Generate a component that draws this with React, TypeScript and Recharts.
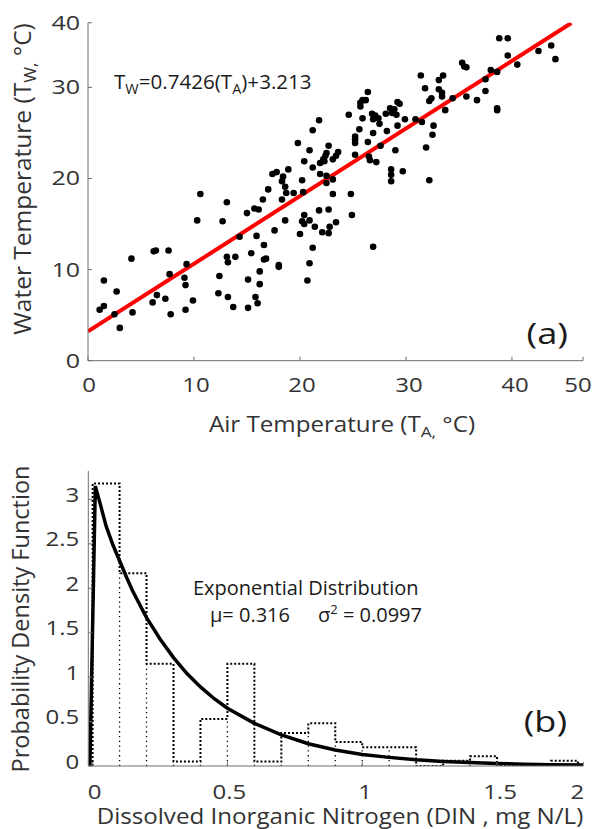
import React from 'react';
import { ComposedChart, Scatter, Line, XAxis, YAxis } from 'recharts';

const FONT = '"Open Sans", "Noto Sans", "DejaVu Sans", sans-serif';
const TEXT = '#333333';
const AXIS = '#6e6e6e';

// ---------- Panel (a): air vs water temperature ----------
const airTemp = [
  1.1, 1.5, 1.5, 2.5, 2.7, 3.0, 4.1, 4.2, 6.1, 6.2, 6.4, 6.5, 7.3, 7.6, 7.7, 7.8, 9.1, 9.2, 9.3, 9.2,
  9.9, 10.3, 10.6, 12.4, 12.3, 12.7, 13.1, 13.1, 13.2, 13.2, 13.7, 13.9, 14.3, 15.0, 15.1, 15.1, 15.4, 15.7, 15.8, 15.9,
  16.0, 16.1, 16.2, 16.2, 16.5, 16.6, 16.6, 16.8, 17.0, 17.6, 18.0, 18.0, 18.3, 18.6, 18.7, 19.4, 20.0,
  23.1, 24.8, 24.9, 21.8, 22.7, 20.4, 20.2, 20.4, 20.9, 21.4, 22.1, 22.8, 22.7, 23.4, 21.2, 20.9, 20.7, 26.9,
  21.8, 21.2, 19.8, 20.9, 22.7, 22.4, 20.4, 21.9, 22.3, 21.2, 18.9, 17.8, 17.4, 18.4, 18.3, 18.6, 21.9, 22.5, 20.2, 20.3,
  22.2, 22.5, 22.5, 23.1, 23.4, 23.6, 23.1, 24.6, 25.2, 25.2, 25.2, 25.2, 25.6, 25.7, 25.7, 25.9, 26.2, 26.4, 25.9, 26.4,
  26.5, 26.6, 26.8, 27.1, 26.9, 26.9, 27.2, 27.4, 27.5, 27.6, 28.1, 28.5, 28.7, 28.9, 29.1, 29.2, 29.4, 28.2, 28.6, 28.6,
  28.6, 29.0, 29.2, 29.7, 29.9, 30.9, 31.5, 31.4, 31.8, 31.9, 32.2, 32.2, 32.4, 32.5, 32.6, 33.1, 33.5, 33.1, 33.4, 33.4,
  33.7, 34.4, 35.3, 35.5, 35.7, 35.7, 36.7, 37.5, 37.5, 38.0, 38.6, 38.6, 38.6, 38.8, 39.6, 39.6, 40.5, 42.5, 43.7, 44.1,
];
const waterTemp = [
  5.6, 6.0, 8.8, 5.1, 7.6, 3.6, 11.2, 5.3, 6.4, 12.0, 12.1, 7.2, 6.8, 12.1, 9.5, 5.1, 9.1, 8.3, 10.6, 5.6,
  6.6, 15.4, 18.3, 9.3, 7.4, 15.3, 17.4, 11.4, 10.8, 7.0, 5.9, 11.4, 13.6, 16.2, 5.8, 8.9, 11.8, 16.7, 7.0, 13.7,
  6.3, 16.6, 9.8, 8.4, 17.7, 12.7, 11.1, 11.2, 18.8, 14.3, 10.3, 10.5, 17.7, 15.4, 18.4, 18.4, 13.9,
  18.3, 18.3, 16.0, 16.5, 16.6, 16.0, 15.3, 15.0, 15.4, 14.7, 14.1, 14.7, 14.0, 15.2, 12.4, 10.7, 8.8, 12.5,
  26.4, 25.3, 23.9, 23.1, 23.6, 22.5, 21.9, 21.7, 21.9, 21.2, 21.0, 20.7, 20.5, 20.2, 19.7, 19.1, 20.5, 19.5, 19.8, 18.5,
  22.1, 22.8, 20.3, 22.1, 22.5, 22.9, 19.9, 27.0, 22.6, 23.9, 24.3, 24.6, 25.4, 27.9, 28.3, 28.6, 28.6, 29.5, 26.6, 24.0,
  22.4, 22.0, 27.1, 26.9, 26.5, 25.0, 21.8, 26.6, 26.0, 23.6, 27.1, 27.7, 27.2, 27.6, 27.0, 28.4, 28.2, 25.2, 21.0, 20.4,
  19.7, 23.1, 25.8, 20.8, 26.5, 26.5, 26.2, 31.3, 29.9, 23.4, 19.8, 28.5, 28.8, 24.8, 25.8, 30.8, 31.3, 29.8, 29.4, 29.0,
  27.5, 28.8, 32.7, 32.3, 32.2, 29.0, 28.6, 30.9, 29.6, 31.9, 31.7, 27.7, 27.5, 35.4, 35.4, 33.5, 32.5, 34.0, 34.6, 33.1,
];
const fitAir = [0, 45.6];
const fitWater = [3.213, 37.07];
const aXTicks = [0, 10, 20, 30, 40, 46.7];
const aXLabels = ['0', '10', '20', '30', '40', '50'];
const aYTicks = [0, 10, 20, 30, 37.1];
const aYLabels = ['0', '10', '20', '30', '40'];

// ---------- Panel (b): DIN histogram + exponential pdf ----------
const binEdges = [0, 0.1, 0.2, 0.3, 0.4, 0.5, 0.6, 0.7, 0.8, 0.9, 1.0, 1.1, 1.2, 1.3, 1.4, 1.5, 1.6, 1.7, 1.8];
const binDensity = [3.18, 2.17, 1.15, 0.05, 0.53, 1.15, 0.05, 0.37, 0.48, 0.27, 0.21, 0.21, 0, 0.06, 0.11, 0, 0, 0.06];
const curveDin = [-0.01, 0.01, 0.03, 0.05, 0.075, 0.1, 0.125, 0.15, 0.2, 0.25, 0.3, 0.35, 0.4, 0.45, 0.5, 0.6, 0.7, 0.8, 0.9, 1.0, 1.1, 1.2, 1.3, 1.4, 1.5, 1.6, 1.7, 1.82];
const curvePdf = [0, 3.15, 2.93, 2.7, 2.49, 2.31, 2.13, 1.96, 1.67, 1.43, 1.22, 1.04, 0.89, 0.76, 0.65, 0.48, 0.35, 0.25, 0.18, 0.13, 0.097, 0.071, 0.052, 0.038, 0.028, 0.02, 0.015, 0.01];
const bXTicks = [0, 0.5, 1, 1.5, 1.82];
const bXLabels = ['0', '0.5', '1', '1.5', '2'];
const bYTicks = [0, 0.5, 1, 1.5, 2, 2.5, 3];
const bYLabels = ['0', '0.5', '1', '1.5', '2', '2.5', '3'];

const scatterData = airTemp.map((x, i) => ({ x, y: waterTemp[i] }));
const fitData = fitAir.map((x, i) => ({ x, y: fitWater[i] }));

// outer outline of the histogram (step envelope)
const histOutline: { x: number; y: number | null }[] = [{ x: binEdges[0], y: 0 }];
binDensity.forEach((h, i) => {
  histOutline.push({ x: binEdges[i], y: h });
  histOutline.push({ x: binEdges[i + 1], y: h });
});
histOutline.push({ x: binEdges[binEdges.length - 1], y: 0 });
// inner bin separators (from 0 up to the lower of the two neighbouring bars)
const histInner: { x: number; y: number | null }[] = [];
for (let i = 1; i < binDensity.length; i++) {
  const top = Math.min(binDensity[i - 1], binDensity[i]);
  if (top > 0) {
    histInner.push({ x: binEdges[i], y: 0 });
    histInner.push({ x: binEdges[i], y: top });
    histInner.push({ x: binEdges[i], y: null });
  }
}
const curveData = curveDin.map((x, i) => ({ x, y: curvePdf[i] }));

const makeXTick = (ticks: number[], labels: string[], dxs: number[], dy: number, sx: number) => (props: any) => {
  const { x, y, payload } = props;
  const i = ticks.indexOf(payload.value);
  return (
    <text transform={`translate(${x + dxs[i]},${y + dy}) scale(${sx},1)`} textAnchor="middle" fontFamily={FONT} fontSize={20} fill={TEXT}>
      {labels[i]}
    </text>
  );
};
const makeYTick = (ticks: number[], labels: string[], dx: number, dy: number, sx: number) => (props: any) => {
  const { x, y, payload } = props;
  const i = ticks.indexOf(payload.value);
  return (
    <text transform={`translate(${x + dx},${y + dy}) scale(${sx},1)`} textAnchor="end" fontFamily={FONT} fontSize={20} fill={TEXT}>
      {labels[i]}
    </text>
  );
};

const dot = (p: any) => <circle cx={p.cx} cy={p.cy} r={3.3} fill="#000" />;

export default function App() {
  return (
    <div style={{ position: 'absolute', left: 0, top: 0, width: 594, height: 829, background: '#fff' }}>
      <div style={{ position: 'absolute', left: 0, top: 0 }}>
        <ComposedChart width={594} height={448} margin={{ top: 22.7, right: 11, bottom: 57.3, left: 28 }}>
          <XAxis xAxisId="b" type="number" dataKey="x" domain={[0, 46.7]} ticks={aXTicks} interval={0} allowDataOverflow height={30}
            tickSize={-4} tickMargin={4} axisLine={{ stroke: AXIS }} tickLine={{ stroke: AXIS }}
            tick={makeXTick(aXTicks, aXLabels, [1, 2, 2, 3, 3, -5], 31, 1.2)} />
          <XAxis xAxisId="t" orientation="top" type="number" dataKey="x" domain={[0, 46.7]} ticks={aXTicks} interval={0} allowDataOverflow height={0}
            tickSize={-4} axisLine={{ stroke: AXIS }} tickLine={{ stroke: AXIS }} tick={false} />
          <YAxis yAxisId="l" type="number" dataKey="y" domain={[0, 37.1]} ticks={aYTicks} interval={0} allowDataOverflow width={60}
            tickSize={-4} tickMargin={4} axisLine={{ stroke: AXIS }} tickLine={{ stroke: AXIS }}
            tick={makeYTick(aYTicks, aYLabels, -8, 7, 1.25)} />
          <YAxis yAxisId="r" orientation="right" type="number" dataKey="y" domain={[0, 37.1]} ticks={aYTicks} interval={0} allowDataOverflow width={0}
            tickSize={-4} axisLine={{ stroke: AXIS }} tickLine={{ stroke: AXIS }} tick={false} />
          <Scatter xAxisId="b" yAxisId="l" data={scatterData} dataKey="y" shape={dot} isAnimationActive={false} />
          <Line xAxisId="b" yAxisId="l" data={fitData} dataKey="y" type="linear" stroke="#ff0000" strokeWidth={4} dot={false} isAnimationActive={false} />
          <text transform="translate(114,89) scale(1.03,1)" fontFamily={FONT} fontSize={20} fill="#1a1a1a">
            <tspan>T</tspan><tspan fontSize={14} dy={5}>W</tspan><tspan dy={-5}>=0.7426(T</tspan><tspan fontSize={14} dy={5}>A</tspan><tspan dy={-5}>)+3.213</tspan>
          </text>
          <text transform="translate(568,344) scale(1.25,1)" textAnchor="end" fontFamily={FONT} fontSize={29} fill="#1a1a1a">(a)</text>
          <text transform="translate(31,179) rotate(-90)" textAnchor="middle" fontFamily={FONT} fontSize={24.5} fill={TEXT}>
            <tspan>Water Temperature (T</tspan><tspan fontSize={17} dy={5}>W,</tspan><tspan dy={-5}> °C)</tspan>
          </text>
          <text transform="translate(342,432) scale(1.15,1)" textAnchor="middle" fontFamily={FONT} fontSize={21} fill={TEXT}>
            <tspan>Air Temperature (T</tspan><tspan fontSize={15} dy={5}>A,</tspan><tspan dy={-5}> °C)</tspan>
          </text>
        </ComposedChart>
      </div>
      <div style={{ position: 'absolute', left: 0, top: 440 }}>
        <ComposedChart width={594} height={389} margin={{ top: 31, right: 10.7, bottom: 33, left: 28.3 }}>
          <XAxis xAxisId="b" type="number" dataKey="x" domain={[-0.016, 1.82]} ticks={bXTicks} interval={0} allowDataOverflow height={30}
            tickSize={-4} tickMargin={4} axisLine={{ stroke: AXIS }} tickLine={{ stroke: AXIS }}
            tick={makeXTick(bXTicks, bXLabels, [2, 2, 3, 3, -6], 33, 1.2)} />
          <XAxis xAxisId="t" orientation="top" type="number" dataKey="x" domain={[-0.016, 1.82]} ticks={bXTicks} interval={0} allowDataOverflow height={0}
            tickSize={-4} axisLine={{ stroke: AXIS }} tickLine={{ stroke: AXIS }} tick={false} />
          <YAxis yAxisId="l" type="number" dataKey="y" domain={[0, 3.32]} ticks={bYTicks} interval={0} allowDataOverflow width={60}
            tickSize={-4} tickMargin={4} axisLine={{ stroke: AXIS }} tickLine={{ stroke: AXIS }}
            tick={makeYTick(bYTicks, bYLabels, -9, 2.5, 1.2)} />
          <YAxis yAxisId="r" orientation="right" type="number" dataKey="y" domain={[0, 3.32]} ticks={bYTicks} interval={0} allowDataOverflow width={0}
            tickSize={-4} axisLine={{ stroke: AXIS }} tickLine={{ stroke: AXIS }} tick={false} />
          <Line xAxisId="b" yAxisId="l" data={histInner} dataKey="y" type="linear" stroke="#000" strokeWidth={1.3} strokeDasharray="1.3 3.5" connectNulls={false} dot={false} isAnimationActive={false} />
          <Line xAxisId="b" yAxisId="l" data={histOutline} dataKey="y" type="linear" stroke="#000" strokeWidth={2} strokeDasharray="2 2" dot={false} isAnimationActive={false} />
          <Line xAxisId="b" yAxisId="l" data={curveData} dataKey="y" type="linear" stroke="#000" strokeWidth={3.5} dot={false} isAnimationActive={false} />
          <text x={193} y={155} fontFamily={FONT} fontSize={20} fill="#1a1a1a">Exponential Distribution</text>
          <text x={210} y={182} fontFamily={FONT} fontSize={20} fill="#1a1a1a">μ= 0.316</text>
          <text x={318} y={182} fontFamily={FONT} fontSize={20} fill="#1a1a1a">
            <tspan>σ</tspan><tspan fontSize={13} dy={-8}>2</tspan><tspan dy={8}> = 0.0997</tspan>
          </text>
          <text transform="translate(567,292) scale(1.2,1)" textAnchor="end" fontFamily={FONT} fontSize={30} fill="#1a1a1a">(b)</text>
          <text transform="translate(29,179) rotate(-90)" textAnchor="middle" fontFamily={FONT} fontSize={23.5} fill={TEXT}>Probability Density Function</text>
          <text transform="translate(340,384) scale(1.15,1)" textAnchor="middle" fontFamily={FONT} fontSize={21} fill={TEXT}>Dissolved Inorganic Nitrogen (DIN , mg N/L)</text>
        </ComposedChart>
      </div>
    </div>
  );
}
